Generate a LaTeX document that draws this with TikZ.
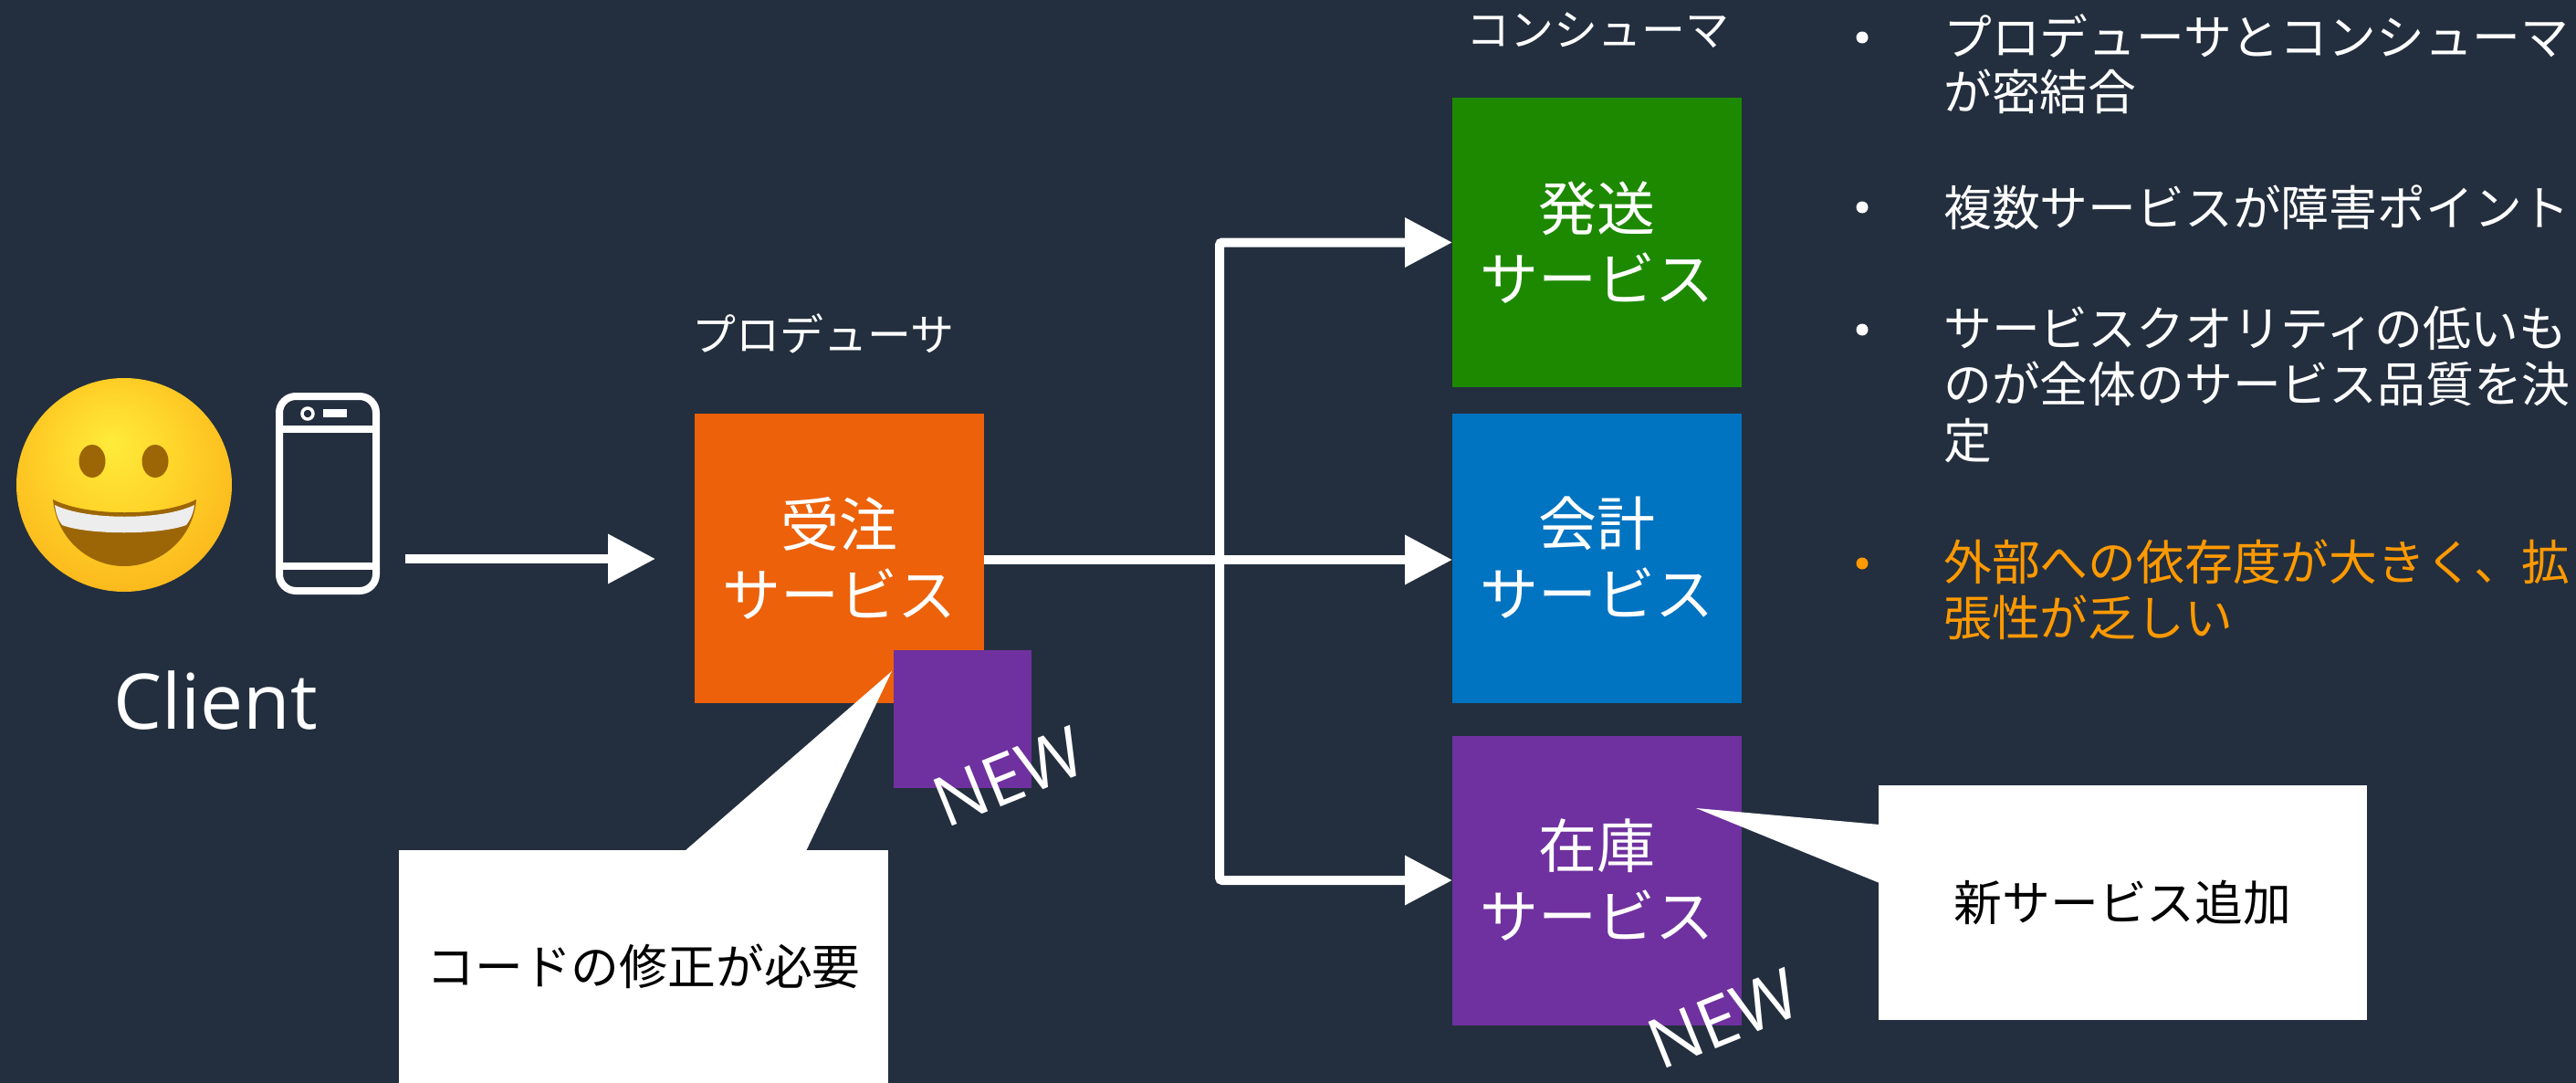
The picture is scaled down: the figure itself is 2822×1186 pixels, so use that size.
\documentclass[tikz,border=0pt]{standalone}
\usepackage{fontspec}
\setmainfont{Noto Sans CJK JP}
\newfontfamily\latinfont{Open Sans}
\usetikzlibrary{arrows.meta}
\definecolor{bgc}{HTML}{232F3E}
\definecolor{orangebox}{HTML}{EC610A}
\definecolor{greenbox}{HTML}{1D8900}
\definecolor{bluebox}{HTML}{0073C1}
\definecolor{purplebox}{HTML}{6F319F}
\definecolor{warn}{HTML}{FF9900}
\definecolor{faceA}{HTML}{FFEB3A}
\definecolor{faceB}{HTML}{FFD52A}
\definecolor{faceC}{HTML}{FBB81C}
\definecolor{faceD}{HTML}{F5A10F}
\definecolor{faceE}{HTML}{EE8A05}
\definecolor{mouthc}{HTML}{9C6606}
\definecolor{teeth}{HTML}{EDEDED}
\pgfdeclareradialshading{facegrad}{\pgfpoint{-3bp}{10bp}}{
 color(0bp)=(faceA);
 color(14bp)=(faceB);
 color(30bp)=(faceC);
 color(44bp)=(faceD);
 color(50bp)=(faceE)}
\tikzset{
 svc/.style={fill=#1,text=white,minimum width=317pt,minimum height=317pt,inner sep=0pt,outer sep=0pt,align=center,font=\fontsize{64}{77}\selectfont},
 lab/.style={text=white,inner sep=0pt,font=\fontsize{48}{58}\selectfont},
 bul/.style={fill=#1,circle,minimum size=13pt,inner sep=0pt},
 item/.style={text=#1,anchor=west,align=left,inner sep=0pt,font=\fontsize{52.8}{60.5}\selectfont},
 callout/.style={fill=white,text=black,inner sep=0pt,outer sep=0pt,align=center,font=\fontsize{52.8}{62}\selectfont},
 tail/.style={fill=white},
 newmark/.style={text=white,rotate=22,inner sep=0pt,font=\latinfont\fontsize{76}{84}\selectfont},
 conn/.style={draw=white,line width=10pt,-{Triangle[length=52pt,width=52pt]}},
 wire/.style={draw=white,line width=10pt},
 phoneline/.style={draw=white,line width=8pt},
}
\begin{document}
\begin{tikzpicture}[x=1pt,y=-1pt]
\useasboundingbox[fill=bgc] (0,0) rectangle (2822,1186);
% face
\shade[shading=facegrad] (136,531) ellipse [x radius=118,y radius=117];
\fill[mouthc] (101,505) ellipse [x radius=14.5,y radius=18];
\fill[mouthc] (170,505) ellipse [x radius=14.5,y radius=18];
\fill[mouthc] (58,547) .. controls (95,566) and (178,566) .. (215,547) .. controls (212,590) and (175,620) .. (136,620) .. controls (97,620) and (62,590) .. (58,547) -- cycle;
\fill[teeth] (60,553) .. controls (95,570) and (178,570) .. (213,553) .. controls (212,562) and (208,570) .. (204,575) .. controls (175,586) and (97,586) .. (68,575) .. controls (64,570) and (61,562) .. (60,553) -- cycle;
% phone
\draw[phoneline,rounded corners=18pt] (306,434) rectangle (412,647);
\draw[phoneline] (306,470) -- (412,470);
\draw[phoneline] (306,620) -- (412,620);
\draw[draw=white,line width=3.5pt] (337,453) ellipse [x radius=6,y radius=6];
\fill[white] (354,448) rectangle (380,457);
\node[text=white,inner sep=0pt,font=\latinfont\fontsize{84}{94}\selectfont] (client) at (236,767) {Client};
\coordinate (clientout) at (444,612);
\coordinate (orderin) at (718,612);
\draw[conn] (clientout) -- (orderin);
% boxes
\node[svc=orangebox] (order) at (919.5,611) {受注\\サービス};
\node[svc=greenbox] (ship) at (1749.5,265.5) {発送\\サービス};
\node[svc=bluebox] (acct) at (1749.5,611) {会計\\サービス};
\node[svc=purplebox] (stock) at (1749.5,964) {在庫\\サービス};
\node[fill=purplebox,minimum width=151pt,minimum height=151pt,inner sep=0pt,outer sep=0pt] (patch) at (1054.5,787.5) {};
% labels
\node[lab] (prod) at (902,365) {プロデューサ};
\node[lab] (cons) at (1750,33) {コンシューマ};
% connectors
\coordinate (branch) at (1336,613);
\draw[wire] ([yshift=-2pt]order.east) -- (branch);
\draw[conn] (branch) -- ([yshift=-2pt]acct.west);
\draw[conn,rounded corners=3pt] (branch) |- (ship.west);
\draw[conn,rounded corners=3pt] (branch) |- (stock.west);
% callouts
\coordinate (tipA) at (977,735);
\coordinate (tipB) at (1858,885);
\node[callout,minimum width=536pt,minimum height=255pt] (noteA) at (705,1058.5) {コードの修正が必要};
\fill[tail] (tipA) -- (883,932) -- (750,932) -- cycle;
\node[callout,minimum width=535pt,minimum height=257pt] (noteB) at (2325.5,988.5) {新サービス追加};
\fill[tail] (tipB) -- (2059,903) -- (2059,967) -- cycle;
\node[newmark] (newA) at (1105,851) {NEW};
\node[newmark] (newB) at (1888,1116) {NEW};
% bullets
\node[bul=white] (b1) at (2040,41) {};
\node[item=white] (t1) at (2129,70) {プロデューサとコンシューマ\\が密結合};
\node[bul=white] (b2) at (2040,227) {};
\node[item=white] (t2) at (2129,227) {複数サービスが障害ポイント};
\node[bul=white] (b3) at (2040,361) {};
\node[item=white,font=\fontsize{52.8}{61.5}\selectfont] (t3) at (2129,421) {サービスクオリティの低いも\\のが全体のサービス品質を決\\定};
\node[bul=warn] (b4) at (2040,617) {};
\node[item=warn] (t4) at (2129,646) {外部への依存度が大きく、拡\\張性が乏しい};
\end{tikzpicture}
\end{document}
